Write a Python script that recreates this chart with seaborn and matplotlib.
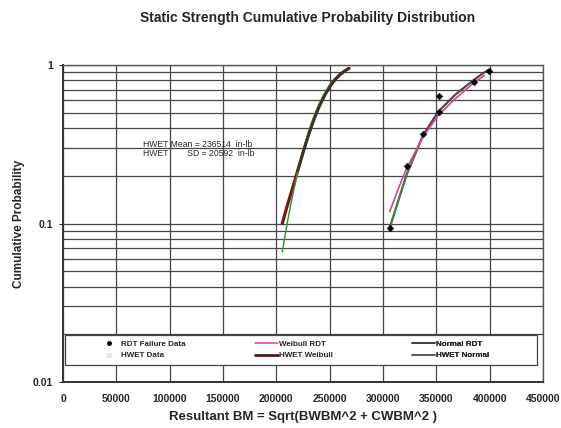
import matplotlib
matplotlib.use("Agg")
import matplotlib.pyplot as plt
from matplotlib.lines import Line2D
from matplotlib.patches import Rectangle
from matplotlib.ticker import FixedLocator, LogLocator, NullFormatter
import seaborn as sns
import pandas as pd

# ---- data ----
rdt_x = [307000, 322600, 337700, 352500, 352500, 384900, 399700]
rdt_p = [0.093, 0.231, 0.367, 0.64, 0.505, 0.778, 0.916]

weib_rdt_x = [306300, 315000, 322000, 337600, 351700, 367300, 383000, 395000]
weib_rdt_p = [0.119, 0.17, 0.222, 0.352, 0.48, 0.61, 0.75, 0.86]

norm_rdt_x = [306300, 322000, 337600, 351700, 367300, 383000, 392000, 398500]
norm_rdt_p = [0.094, 0.202, 0.361, 0.507, 0.646, 0.785, 0.87, 0.93]

hwet_x = [205600, 210000, 215000, 220000, 225000, 230000, 235000, 240000,
          245000, 250000, 255000, 260000, 265000, 268100]
hwet_weib_p = [0.10, 0.128, 0.165, 0.215, 0.28, 0.36, 0.45, 0.545,
               0.64, 0.73, 0.81, 0.875, 0.925, 0.953]
hwet_norm_p = [0.066, 0.099, 0.148, 0.211, 0.288, 0.376, 0.471, 0.567,
               0.66, 0.744, 0.815, 0.873, 0.917, 0.945]

x_ticks = [0, 50000, 100000, 150000, 200000, 250000, 300000, 350000, 400000, 450000]
y_ticks = [0.01, 0.1, 1]
y_tick_labels = ["0.01", "0.1", "1"]

title = "Static Strength Cumulative Probability Distribution"
xlabel = "Resultant BM = Sqrt(BWBM^2 + CWBM^2 )"
ylabel = "Cumulative Probability"
note_lines = ["HWET Mean = 236514  in-lb", "HWET        SD = 20592  in-lb"]

# ---- plotting ----
sns.set_style("white")
plt.rcParams["font.family"] = ["Liberation Sans", "DejaVu Sans"]

fig = plt.figure(figsize=(5.61, 4.28), dpi=100)
ax = fig.add_axes([0.1123, 0.1075, 0.8556, 0.7406])

grid_c = "#454545"

df_hw = pd.DataFrame({"x": hwet_x, "w": hwet_weib_p, "n": hwet_norm_p})
sns.lineplot(data=df_hw, x="x", y="w", ax=ax, color="#7a1515", lw=2.3, zorder=3)
sns.lineplot(data=df_hw, x="x", y="n", ax=ax, color="#2f9a3a", lw=1.1, zorder=4)
# dark overlay on upper HWET curve
sns.lineplot(x=hwet_x[3:], y=hwet_weib_p[3:], ax=ax, color="#35352a", lw=1.7, zorder=5)

sns.lineplot(x=norm_rdt_x, y=norm_rdt_p, ax=ax, color="#4a4a4a", lw=1.6, zorder=3)
sns.lineplot(x=norm_rdt_x[:3], y=norm_rdt_p[:3], ax=ax, color="#2f9a3a", lw=0.9, zorder=4)
sns.lineplot(x=weib_rdt_x, y=weib_rdt_p, ax=ax, color="#d9409b", lw=1.2, zorder=4)
sns.scatterplot(x=rdt_x, y=rdt_p, ax=ax, color="black", marker="D", s=12,
                edgecolor="black", zorder=6)

ax.set_yscale("log")
ax.set_xlim(0, 450000)
ax.set_ylim(0.01, 1)

ax.xaxis.set_major_locator(FixedLocator(x_ticks))
ax.set_xticklabels([str(v) for v in x_ticks])
ax.yaxis.set_major_locator(FixedLocator(y_ticks))
ax.set_yticklabels(y_tick_labels)
ax.yaxis.set_minor_locator(LogLocator(base=10, subs=range(2, 10)))
ax.yaxis.set_minor_formatter(NullFormatter())

ax.grid(True, which="major", axis="both", color=grid_c, lw=0.9)
ax.grid(True, which="minor", axis="y", color=grid_c, lw=0.9)
ax.set_axisbelow(True)

for s in ax.spines.values():
    s.set_color("#555555")
    s.set_linewidth(1.0)
ax.spines["left"].set_color("#333333")
ax.spines["left"].set_linewidth(1.4)
ax.spines["bottom"].set_color("#333333")
ax.spines["bottom"].set_linewidth(1.4)

ax.tick_params(axis="y", which="major", length=3, direction="out", left=True, labelsize=7.5, pad=4)
ax.tick_params(axis="y", which="minor", length=0)
ax.tick_params(axis="x", which="major", length=0, labelsize=7.5, pad=9)
for lab in ax.get_xticklabels() + ax.get_yticklabels():
    lab.set_fontweight("bold")

ax.set_xlabel(xlabel, fontsize=9.5, fontweight="bold", labelpad=5)
ax.set_ylabel(ylabel, fontsize=8.5, fontweight="bold", labelpad=6)
fig.text(0.548, 0.957, title, ha="center", va="center", fontsize=10, fontweight="bold")

ax.text(75000, 0.315, note_lines[0], fontsize=6.2, va="center", ha="left")
ax.text(75000, 0.277, note_lines[1], fontsize=6.2, va="center", ha="left")

# legend: frame plus three columns
frame = Rectangle((0.004, 0.054), 0.983, 0.094, transform=ax.transAxes,
                  facecolor="white", edgecolor="#444444", lw=0.9, zorder=7)
ax.add_patch(frame)

col_handles = [
    [Line2D([], [], marker="o", color="black", ls="none", markersize=2.5),
     Line2D([], [], marker="s", color="#e6e6e6", ls="none", markersize=3)],
    [Line2D([], [], color="#d9409b", lw=1.1),
     Line2D([], [], color="#5a1515", lw=2.0)],
    [Line2D([], [], color="#3a3a3a", lw=1.1),
     Line2D([], [], color="#555555", lw=1.1)],
]
col_labels = [["RDT Failure Data", "HWET Data"],
              ["Weibull RDT", "HWET Weibull"],
              ["Normal RDT", "HWET Normal"]]
col_x = [0.071, 0.400, 0.727]
for hs, ls_, cx in zip(col_handles, col_labels, col_x):
    lg = ax.legend(hs, ls_, loc="center left", bbox_to_anchor=(cx, 0.101),
                   fontsize=5.8, frameon=False, borderpad=0, borderaxespad=0,
                   handlelength=2.9, handletextpad=0.1, labelspacing=0.45)
    lg.set_zorder(8)
    for t in lg.get_texts():
        t.set_fontweight("bold")
    ax.add_artist(lg)

fig.savefig("out.png", dpi=100, facecolor="white")
